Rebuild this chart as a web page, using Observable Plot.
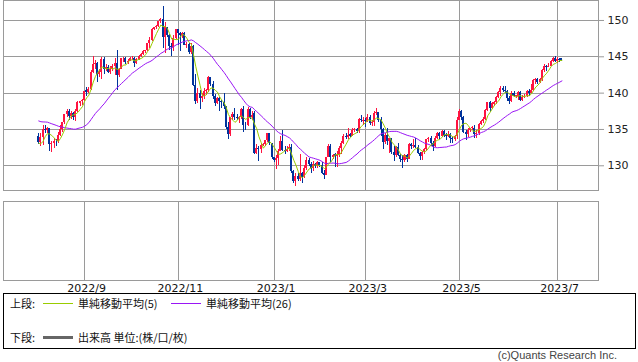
<!DOCTYPE html>
<html><head><meta charset="utf-8">
<script src="https://cdn.jsdelivr.net/npm/d3@7"></script>
<script src="https://cdn.jsdelivr.net/npm/@observablehq/plot@0.6"></script>
<style>
html,body{margin:0;padding:0;background:#fff;}
#wrap{position:relative;width:638px;height:362px;overflow:hidden;background:#fff;}
#upper{position:absolute;left:0;top:0;}
#lower{position:absolute;left:0;top:200px;}
#legend{position:absolute;left:3px;top:293px;width:631px;height:54px;border:1px solid #000;font-family:"Noto Sans CJK JP",sans-serif;font-size:11px;color:#111;}
.row{position:absolute;left:0;height:14px;line-height:14px;white-space:nowrap;}
.row span{position:absolute;top:0;}
.sw{position:absolute;}
#copy{position:absolute;right:21px;top:349px;font-family:"Liberation Sans",sans-serif;font-size:11px;color:#444;}
</style></head><body><div id="wrap"><div id="upper"></div><div id="lower"></div>
<div id="legend"></div><div id="copy"></div></div>
<script>
// ---- data (USD/JPY daily, 2022/8/3 - 2023/7/5, trading days) ----
const startDate = "2022-08-03";
const opens = [
// Aug
134.0,133.2,133.9,135.0,134.9,135.1,132.9,133.0,133.4,133.3,134.2,135.0,135.9,137.0,137.5,136.8,137.2,136.6,137.5,138.6,138.8,
// Sep
139.0,140.3,140.1,140.5,142.8,144.0,144.1,142.6,142.8,144.6,143.2,143.5,142.9,143.2,143.7,144.1,142.4,143.3,144.7,144.8,144.2,144.4,
// Oct
144.7,144.8,144.1,144.6,145.1,145.3,145.7,145.8,146.9,147.2,148.7,149.0,149.2,149.9,150.1,147.6,149.0,147.9,146.4,146.3,147.5,
// Nov
148.7,148.2,147.9,148.2,146.5,146.7,145.6,146.4,141.0,138.8,139.9,139.3,139.6,140.2,140.4,142.1,141.2,139.6,138.6,139.2,138.9,138.7,
// Dec
138.1,135.3,134.3,136.7,137.0,136.7,136.5,136.6,137.7,135.6,135.5,137.8,136.7,137.2,131.7,132.4,132.3,132.8,132.9,133.5,134.4,133.0,
// Jan
131.1,130.7,131.0,132.0,133.4,132.1,131.9,132.3,132.5,129.2,127.9,128.5,128.1,128.9,128.4,129.6,130.7,130.2,129.6,130.2,129.9,130.4,
// Feb
130.1,128.9,128.7,131.2,132.6,131.1,131.5,131.3,131.4,132.4,133.1,134.1,133.9,134.3,134.1,134.8,135.0,134.7,136.4,136.1,
// Mar
136.3,136.1,136.7,135.8,135.9,137.2,137.3,136.2,135.0,133.2,134.2,133.4,133.7,131.8,131.4,132.5,131.4,130.8,130.7,131.4,130.9,132.9,132.7,
// Apr
132.8,132.5,131.7,131.3,131.8,132.2,133.6,133.7,133.1,132.6,133.8,134.5,134.1,134.7,134.2,134.1,134.3,133.7,133.6,134.0,
// May
136.3,137.5,136.6,134.6,134.3,134.8,135.1,135.2,134.3,134.5,135.7,136.1,136.4,137.6,138.7,137.9,138.5,138.7,139.4,140.1,140.6,140.4,140.2,
// Jun
139.3,138.8,140.0,139.5,139.6,140.1,139.0,139.4,139.6,140.2,140.0,140.3,141.8,141.9,141.5,141.9,143.1,143.7,143.5,143.6,144.3,144.7,
// Jul
144.3,144.6,144.7];
const highs = [
134.4,134.4,135.6,135.5,135.3,135.2,133.4,133.8,133.6,134.6,135.5,136.0,137.0,137.7,137.7,137.5,137.3,137.7,138.9,138.9,139.1,
140.2,140.8,140.8,143.1,145.0,144.5,144.2,143.2,144.9,144.9,144.0,143.8,143.6,143.9,144.7,145.9,143.4,144.8,144.9,144.9,144.6,144.9,
145.0,144.9,144.8,145.2,145.4,145.8,145.9,146.9,147.7,148.9,149.1,149.3,149.9,150.3,151.9,149.7,149.1,148.1,146.9,147.9,148.8,
148.8,148.3,148.4,148.4,147.0,146.8,146.8,146.6,142.5,140.6,140.3,139.9,140.7,140.5,142.3,142.2,141.6,139.8,139.4,139.4,139.0,139.9,
138.2,135.9,136.7,137.4,137.9,137.0,136.8,137.9,138.2,135.9,138.0,137.9,137.5,137.5,132.9,132.7,133.0,133.0,133.5,134.5,134.5,133.1,
131.2,131.4,132.2,134.1,134.8,132.7,132.7,132.9,132.9,129.4,128.9,128.9,131.6,129.1,130.1,131.1,131.0,130.5,130.6,130.3,130.6,130.5,
130.5,129.3,131.2,132.9,132.9,131.6,131.7,131.9,132.6,133.3,134.3,134.4,135.1,134.4,135.2,135.2,135.2,136.5,136.9,136.6,
136.5,137.1,136.9,136.2,137.5,137.9,137.4,136.7,135.1,134.5,135.1,133.8,133.8,132.6,132.6,133.0,131.6,131.4,131.6,131.6,133.0,133.0,133.6,
133.8,132.8,131.8,131.9,132.4,133.6,133.9,134.0,133.4,134.0,134.6,134.6,134.9,134.8,134.4,134.7,134.4,133.9,134.2,136.6,
137.8,137.6,136.8,134.9,135.1,135.2,135.4,135.5,134.8,135.8,136.3,136.7,137.7,138.7,138.8,138.7,138.9,139.6,140.2,140.9,140.9,140.9,140.3,
139.6,140.2,140.2,139.7,140.2,140.2,139.7,139.8,140.3,140.5,141.2,141.9,142.0,142.0,142.0,143.2,143.9,143.8,144.1,144.5,144.9,145.0,
144.9,144.8,144.8];
const lows = [
132.9,132.6,132.8,134.4,134.5,132.0,131.8,132.4,132.6,133.0,134.0,134.6,135.7,136.6,136.2,136.4,136.2,136.1,137.4,138.1,138.3,
138.9,139.6,140.0,140.3,142.7,143.3,141.5,142.2,141.9,142.6,143.0,142.7,142.6,143.0,142.4,140.4,142.2,143.2,144.2,143.9,143.9,144.3,
144.5,143.5,143.9,144.5,144.9,145.2,145.4,145.7,146.1,147.1,148.6,148.8,149.1,149.6,146.2,145.5,147.6,145.9,145.1,145.7,147.4,
146.6,145.7,147.5,146.6,146.2,145.3,145.3,140.9,138.5,138.6,137.7,138.7,139.1,139.7,140.1,140.9,139.1,138.1,138.5,137.5,137.9,137.7,
135.0,133.6,134.1,136.3,136.3,136.2,135.8,136.4,134.6,134.9,135.4,136.4,136.2,131.6,131.6,130.6,131.7,132.6,132.6,133.2,132.8,130.8,
130.5,129.5,130.0,131.9,131.9,131.5,131.8,132.0,128.9,127.5,127.2,127.9,127.9,127.6,128.2,129.4,129.9,129.0,129.2,129.6,129.6,129.8,
128.8,128.1,128.6,131.1,130.5,130.8,129.8,129.8,131.2,131.6,132.9,133.6,133.6,133.9,134.0,134.6,134.4,134.5,136.0,135.5,
135.3,136.0,135.6,135.4,135.4,136.9,136.0,134.1,132.3,132.9,132.8,131.7,131.6,130.6,131.1,131.3,130.4,129.6,130.4,130.4,130.8,132.2,132.4,
132.4,131.6,130.7,130.7,131.6,132.0,133.2,132.6,132.0,132.5,133.6,133.6,133.9,133.9,133.5,133.9,133.0,133.0,133.4,133.6,
136.2,136.3,134.5,133.5,133.9,134.6,134.8,133.7,133.8,134.2,135.6,135.8,136.3,137.5,137.4,137.8,138.2,138.4,139.3,139.6,140.1,139.9,138.9,
138.4,138.7,139.4,139.3,139.0,138.8,138.8,139.2,139.4,139.5,139.9,140.2,141.2,141.2,141.3,141.6,142.9,143.0,143.5,143.6,144.2,144.2,
144.1,144.2,144.3];
const closes = [
133.2,133.9,135.0,134.9,135.1,132.9,133.0,133.4,133.3,134.2,135.0,135.9,137.0,137.5,136.8,137.2,136.6,137.5,138.7,138.8,139.0,
140.2,140.1,140.5,142.8,144.0,144.1,142.6,142.8,144.6,143.2,143.5,142.9,143.2,143.7,144.1,142.4,143.3,144.7,144.8,144.2,144.4,144.7,
144.8,144.1,144.6,145.1,145.3,145.7,145.8,146.9,147.2,148.7,149.0,149.2,149.9,150.1,147.6,149.0,147.9,146.4,146.3,147.5,148.7,
148.2,147.9,148.2,146.6,146.7,145.6,146.4,141.0,138.8,139.9,139.3,139.6,140.2,140.4,142.1,141.2,139.6,138.6,139.2,138.9,138.7,138.1,
135.3,134.3,136.7,137.0,136.6,136.5,136.6,137.7,135.6,135.5,137.8,136.7,136.9,131.7,132.4,132.3,132.8,132.9,133.5,134.4,133.0,131.1,
130.7,131.0,132.0,133.4,132.1,131.9,132.3,132.5,129.2,127.9,128.5,128.1,128.9,128.4,129.6,130.7,130.2,129.6,130.2,129.9,130.4,130.1,
128.9,128.7,131.2,132.6,131.1,131.4,131.3,131.4,132.4,133.1,134.1,133.9,134.2,134.1,134.9,135.0,134.7,136.4,136.2,136.3,
136.1,136.7,135.8,135.9,137.2,137.3,136.2,135.0,133.2,134.2,133.4,133.7,131.8,131.4,132.5,131.4,130.8,130.7,131.4,130.9,132.9,132.7,132.8,
132.5,131.7,131.3,131.8,132.2,133.6,133.7,133.1,132.6,133.8,134.5,134.1,134.7,134.2,134.1,134.3,133.7,133.6,134.0,136.3,
137.5,136.6,134.6,134.3,134.8,135.1,135.2,134.3,134.5,135.7,136.1,136.4,137.6,138.7,137.9,138.6,138.7,139.4,140.1,140.6,140.4,140.2,139.3,
138.8,140.0,139.6,139.6,140.1,139.0,139.4,139.6,140.2,140.0,140.3,141.8,141.9,141.5,141.9,143.1,143.7,143.5,143.6,144.3,144.7,144.3,
144.6,144.5,144.5];
// closes of the 25 trading days before the first candle (for the moving averages)
const priorCloses = [136.6,135.7,135.2,135.7,135.9,135.9,136.0,136.1,137.4,137.0,137.4,139.0,138.6,138.2,138.2,138.2,137.4,136.1,136.7,137.0,136.6,134.2,133.3,131.6,133.2];
const priceTicks = [130,135,140,145,150];
const monthLabels = ["2022/9","2022/11","2023/1","2023/3","2023/5","2023/7"];
const legendTopLabel = "上段:";
const legendBottomLabel = "下段:";
const maLabels = ["単純移動平均(5)","単純移動平均(26)"];
const volumeLabel = "出来高 単位:(株/口/枚)";
const copyright = "(c)Quants Research Inc.";

// ---- build ----
function weekdays(start, n){
  const out=[]; let d=new Date(start+"T00:00:00Z");
  while(out.length<n){const w=d.getUTCDay(); if(w!==0&&w!==6) out.push(new Date(d)); d=new Date(d.getTime()+86400000);}
  return out;
}
const N = Math.min(opens.length, highs.length, lows.length, closes.length);
const dates = weekdays(startDate, N);
const data = d3.range(N).map(i=>({i, date:dates[i], open:opens[i], high:highs[i], low:lows[i], close:closes[i]}));
const all = priorCloses.concat(closes.slice(0,N));
const P = priorCloses.length;
const sma = n => d3.range(N).map(i=>({i, v:d3.mean(all.slice(i+P-n+1, i+P+1))}));
const ma5 = sma(5), ma26 = sma(26);
const tickIdx = monthLabels.map(lab=>{const [y,m]=lab.split("/").map(Number); return dates.findIndex(d=>d.getUTCFullYear()===y&&d.getUTCMonth()+1===m);});
const labelOf = new Map(tickIdx.map((t,k)=>[t,monthLabels[k]]));

const UP="#ff1440", DOWN="#00339c", GRID="#9a9a9a";
const col = d => d.close>=d.open ? UP : DOWN;
const xDomain=[-16.17, 256.76];
const baseStyle={fontFamily:"DejaVu Sans, sans-serif", background:"transparent", overflow:"visible"};

const upper = Plot.plot({
  width:638, height:191, marginLeft:3, marginRight:40, marginTop:0, marginBottom:1,
  style:baseStyle,
  x:{domain:xDomain, axis:null},
  y:{domain:[126.6,152.75], axis:null},
  marks:[
    Plot.ruleY(priceTicks,{stroke:GRID, shapeRendering:"crispEdges"}),
    Plot.ruleX(tickIdx,{stroke:GRID, shapeRendering:"crispEdges"}),
    Plot.frame({stroke:GRID, shapeRendering:"crispEdges"}),
    Plot.axisY({anchor:"right", ticks:priceTicks, tickSize:5, tickPadding:4, stroke:GRID, fill:"#222", fontSize:11, tickFormat:d=>String(d)}),
    Plot.ruleX(data,{x:"i", y1:"low", y2:"high", stroke:col, strokeWidth:1, shapeRendering:"crispEdges"}),
    Plot.rect(data,{x1:d=>d.i-0.46, x2:d=>d.i+0.46, y1:"open", y2:d=>Math.abs(d.close-d.open)<0.12?d.open+(d.close>=d.open?0.12:-0.12):d.close, fill:col, shapeRendering:"crispEdges"}),
    Plot.line(ma26,{x:"i", y:"v", stroke:"#9a16f5", strokeWidth:1}),
    Plot.line(ma5,{x:"i", y:"v", stroke:"#99cc00", strokeWidth:1})
  ]
});
document.getElementById("upper").appendChild(upper);

const lower = Plot.plot({
  width:638, height:100, marginLeft:3, marginRight:40, marginTop:1, marginBottom:20,
  style:baseStyle,
  x:{domain:xDomain, axis:null},
  marks:[
    Plot.ruleX(tickIdx,{stroke:GRID, shapeRendering:"crispEdges"}),
    Plot.frame({stroke:GRID, shapeRendering:"crispEdges"}),
    Plot.axisX({anchor:"bottom", ticks:tickIdx, tickSize:0, tickPadding:4, dx:2, fontSize:11, fill:"#111", tickFormat:d=>labelOf.get(d)})
  ]
});
document.getElementById("lower").appendChild(lower);

// legend
const lg=document.getElementById("legend");
function row(top, label, items){
  const r=document.createElement("div"); r.className="row"; r.style.top=top+"px"; r.style.width="630px";
  const s=document.createElement("span"); s.textContent=label; s.style.left="6px"; r.appendChild(s);
  items.forEach(it=>{
    const sw=document.createElement("div"); sw.className="sw";
    sw.style.left=it.sx+"px"; sw.style.width="30px"; sw.style.top=(7-Math.floor(it.h/2))+"px"; sw.style.height=it.h+"px"; sw.style.background=it.c;
    r.appendChild(sw);
    const t=document.createElement("span"); t.textContent=it.t; t.style.left=it.tx+"px"; r.appendChild(t);
  });
  lg.appendChild(r);
}
row(2, legendTopLabel, [{sx:39,tx:74,c:"#99cc00",h:1,t:maLabels[0]},{sx:167,tx:202,c:"#9a16f5",h:1,t:maLabels[1]}]);
row(36, legendBottomLabel, [{sx:39,tx:74,c:"#666",h:3,t:volumeLabel}]);
document.getElementById("copy").textContent=copyright;
</script></body></html>
